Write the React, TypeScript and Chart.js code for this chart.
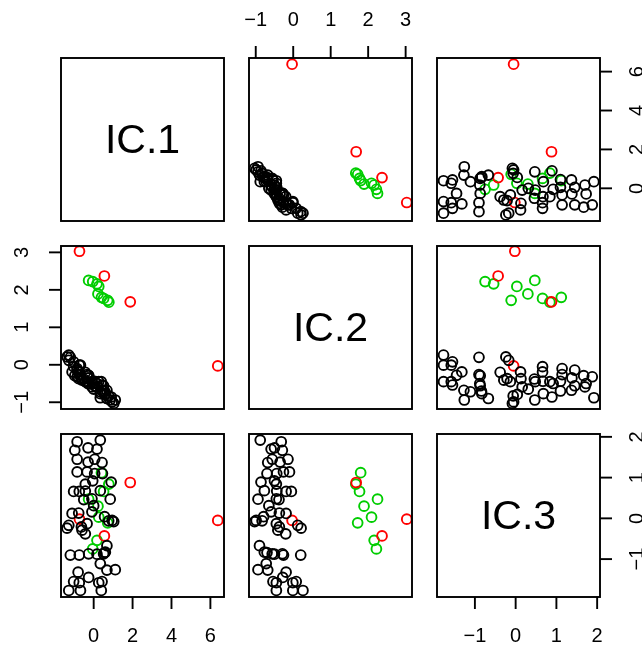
import React, { useEffect, useRef } from "react";
import { Chart, registerables } from "chart.js";
Chart.register(...registerables);

// ---------------- data ----------------
const varNames = ["IC.1", "IC.2", "IC.3"];

const blackIC1 = [-0.97, -0.85, -0.29, 0.17, 0.34, -0.85, -0.29, 0.05, 0.43, -0.85, -0.34, 0.05, 0.45, -0.43, -0.05, 0.9, -0.74, -0.43, 0.34, -1.03, -0.51, -0.09, 0.85, 0.0, -1.11, -0.77, -0.09, 0.56, -1.37, -1.28, -0.63, -0.6, -0.34, 0.77, 1.03, 0.95, -0.43, -1.2, -0.74, -0.26, 0.17, 0.51, 0.56, 0.6, 0.68, -0.8, 0.34, 0.68, 1.11, -1.03, -0.74, -0.26, 0.26, 0.43, -1.28, -0.68, 0.39];
const blackIC2 = [-0.29, -0.32, -0.5, -0.59, -0.88, -0.14, -0.35, -0.56, -0.68, -0.1, -0.26, -0.44, -0.7, -0.45, -0.5, -0.86, -0.19, -0.44, -0.77, -0.05, -0.38, -0.45, -0.94, -0.65, -0.19, -0.37, -0.59, -0.79, 0.21, 0.12, -0.37, -0.41, -0.45, -0.83, -1.03, -0.99, -0.2, 0.2, -0.26, -0.29, -0.5, -0.56, -0.7, -0.77, -0.9, -0.19, -0.72, -0.68, -0.94, 0.08, -0.01, -0.28, -0.45, -0.54, 0.26, -0.01, -0.45];
const blackIC3 = [1.67, 1.88, 1.73, 1.7, 1.92, 1.45, 1.38, 1.45, 1.37, 1.14, 1.14, 1.1, 1.1, 0.84, 0.92, 0.89, 0.66, 0.67, 0.68, 0.66, 0.46, 0.48, 0.47, 0.31, 0.12, 0.13, 0.16, 0.04, -0.24, -0.17, -0.21, -0.29, -0.13, -0.06, -0.08, -0.05, -0.38, -0.9, -0.9, -0.87, -0.88, -0.87, -0.84, -0.83, -0.67, -1.32, -1.11, -1.27, -1.26, -1.55, -1.58, -1.45, -1.58, -1.55, -1.77, -1.77, -1.77];

const greenIC1 = [-0.26, -0.05, 0.17, 0.26, 0.22, 0.51, 0.78, 0.4, 0.72];
const greenIC2 = [2.25, 2.22, 2.16, 2.09, 1.89, 1.77, 1.67, 1.8, 1.72];
const greenIC3 = [0.47, -0.75, -0.54, 0.03, 0.3, 0.66, 0.84, 1.12, -0.11];

const redIC1 = [6.38, 1.88, -0.73, 0.55];
const redIC2 = [-0.03, 1.68, 3.03, 2.37];
const redIC3 = [-0.05, 0.88, -0.02, -0.43];

const ticksIC1 = [0, 2, 4, 6];
const ticksIC2 = [-1, 0, 1, 2, 3];
const ticksIC3 = [-1, 0, 1, 2];

const axisMin = [-1.68, -1.18, -1.93];
const axisMax = [6.7, 3.17, 2.07];

// ---------------- layout ----------------
const W = 642;
const H = 648;
const PANEL = 163;
const PITCH = 188;
const X0 = 61;
const Y0 = 58;
const LW = 1.9;
const TICK = 12;
const FONT = "'Liberation Sans', Arial, Helvetica, sans-serif";

const black = [blackIC1, blackIC2, blackIC3];
const green = [greenIC1, greenIC2, greenIC3];
const red = [redIC1, redIC2, redIC3];
const tickSets = [ticksIC1, ticksIC2, ticksIC3];

type Side = "bottom" | "top" | "left" | "right";
function sidesFor(r: number, c: number): Side[] {
  const s: Side[] = [];
  if (r === 2 && c % 2 === 0) s.push("bottom");
  if (r === 0 && c % 2 === 1) s.push("top");
  if (c === 0 && r % 2 === 1) s.push("left");
  if (c === 2 && r % 2 === 0) s.push("right");
  return s;
}

const fmt = (v: number) => (v < 0 ? "\u2212" + Math.abs(v) : String(v));

function framePlugin(r: number, c: number) {
  return {
    id: "frame" + r + c,
    afterDraw(chart: any) {
      const ctx = chart.ctx as CanvasRenderingContext2D;
      const a = chart.chartArea;
      ctx.save();
      ctx.strokeStyle = "#000";
      ctx.lineWidth = LW;
      ctx.strokeRect(a.left, a.top, a.right - a.left, a.bottom - a.top);
      ctx.fillStyle = "#000";
      ctx.font = "20px " + FONT;
      ctx.textAlign = "center";
      ctx.textBaseline = "middle";
      for (const side of sidesFor(r, c)) {
        const horiz = side === "bottom" || side === "top";
        const ticks = tickSets[horiz ? c : r];
        const scale = horiz ? chart.scales.x : chart.scales.y;
        for (const t of ticks) {
          const p = scale.getPixelForValue(t);
          ctx.beginPath();
          if (side === "bottom") {
            ctx.moveTo(p, a.bottom);
            ctx.lineTo(p, a.bottom + TICK);
          } else if (side === "top") {
            ctx.moveTo(p, a.top);
            ctx.lineTo(p, a.top - TICK);
          } else if (side === "left") {
            ctx.moveTo(a.left, p);
            ctx.lineTo(a.left - TICK, p);
          } else {
            ctx.moveTo(a.right, p);
            ctx.lineTo(a.right + TICK, p);
          }
          ctx.stroke();
          ctx.save();
          if (side === "bottom") {
            ctx.fillText(fmt(t), p, a.bottom + 39);
          } else if (side === "top") {
            ctx.fillText(fmt(t), p, a.top - 38);
          } else if (side === "left") {
            ctx.translate(a.left - 39, p);
            ctx.rotate(-Math.PI / 2);
            ctx.fillText(fmt(t), 0, 0);
          } else {
            ctx.translate(a.right + 37, p);
            ctx.rotate(-Math.PI / 2);
            ctx.fillText(fmt(t), 0, 0);
          }
          ctx.restore();
        }
      }
      ctx.restore();
    },
  };
}

function pts(xs: number[], ys: number[]) {
  return xs.map((x, i) => ({ x, y: ys[i] }));
}

function ds(xs: number[], ys: number[], color: string) {
  return {
    data: pts(xs, ys),
    pointStyle: "circle",
    pointRadius: 4.9,
    pointBorderWidth: 1.9,
    pointBorderColor: color,
    pointBackgroundColor: "rgba(0,0,0,0)",
    borderColor: color,
    backgroundColor: "rgba(0,0,0,0)",
    showLine: false,
    clip: false,
  };
}

function Panel({ r, c }: { r: number; c: number }) {
  const ref = useRef<HTMLCanvasElement | null>(null);
  useEffect(() => {
    if (!ref.current) return;
    const left = X0 + c * PITCH;
    const top = Y0 + r * PITCH;
    const diag = r === c;
    const datasets = diag
      ? []
      : [ds(black[c], black[r], "#000000"), ds(red[c], red[r], "#FF0000"), ds(green[c], green[r], "#00CD00")];
    const chart = new Chart(ref.current, {
      type: "scatter",
      data: { datasets: datasets as any },
      options: {
        responsive: false,
        animation: false,
        events: [],
        layout: { padding: { left, top, right: W - left - PANEL, bottom: H - top - PANEL } },
        scales: {
          x: { type: "linear", min: axisMin[c], max: axisMax[c], display: false },
          y: { type: "linear", min: axisMin[r], max: axisMax[r], display: false },
        },
        plugins: { legend: { display: false }, tooltip: { enabled: false } },
      },
      plugins: [framePlugin(r, c)],
    });
    return () => chart.destroy();
  }, [r, c]);
  return (
    <canvas
      ref={ref}
      width={W}
      height={H}
      style={{ position: "absolute", left: 0, top: 0, width: W, height: H, pointerEvents: "none" }}
    />
  );
}

export default function App() {
  const cells: React.ReactNode[] = [];
  for (let r = 0; r < 3; r++) {
    for (let c = 0; c < 3; c++) {
      cells.push(<Panel key={`p${r}${c}`} r={r} c={c} />);
    }
  }
  return (
    <div style={{ position: "absolute", left: 0, top: 0, width: W, height: H, background: "#fff", overflow: "hidden" }}>
      {cells}
      {varNames.map((name, i) => (
        <div
          key={name}
          style={{
            position: "absolute",
            left: X0 + i * PITCH,
            top: Y0 + i * PITCH,
            width: PANEL,
            height: PANEL,
            display: "flex",
            alignItems: "center",
            justifyContent: "center",
            fontFamily: FONT,
            fontSize: 41,
            lineHeight: 1,
            color: "#000",
          }}
        >
          {name}
        </div>
      ))}
    </div>
  );
}
